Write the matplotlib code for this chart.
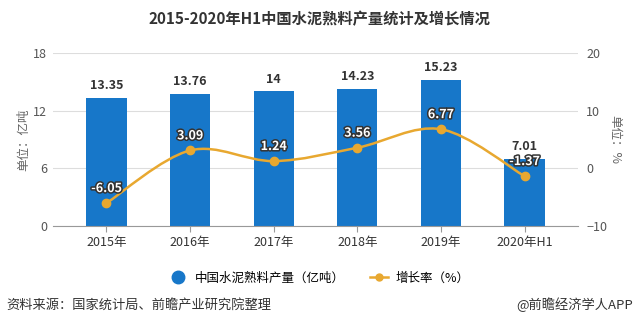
import matplotlib.pyplot as plt
import matplotlib.patheffects as pe
from matplotlib.path import Path
from matplotlib.patches import PathPatch
from matplotlib.lines import Line2D
import numpy as np

plt.rcParams['font.family'] = ['Noto Sans CJK SC', 'DejaVu Sans']

years = ["2015年", "2016年", "2017年", "2018年", "2019年", "2020年H1"]
output = [13.35, 13.76, 14, 14.23, 15.23, 7.01]
growth = [-6.05, 3.09, 1.24, 3.56, 6.77, -1.37]

bar_color = "#1777c9"
line_color = "#e8a830"

fig = plt.figure(figsize=(6.38, 3.25), dpi=100)
ax = fig.add_axes([0.083, 0.305, 0.823, 0.532])
ax2 = ax.twinx()

x = np.arange(len(years))
ax.bar(x, output, width=0.48, color=bar_color, zorder=2)
for xi, v in zip(x, output):
    ax.text(xi, v + 0.6, f"{v:g}", ha="center", va="bottom", fontsize=9,
            fontweight="bold", color="#333333")

ax.set_ylim(0, 18)
ax.set_yticks([0, 6, 12, 18])
ax.set_xlim(-0.64, 5.64)
ax.set_xticks(x)
ax.set_xticklabels(years)
ax.grid(axis="y", color="#dddddd", linewidth=0.8, zorder=0)
ax.set_axisbelow(True)
for s in ["top", "right", "left"]:
    ax.spines[s].set_visible(False)
ax.spines["bottom"].set_color("#999999")
ax.tick_params(axis="y", length=0, labelsize=9, labelcolor="#555555", pad=4)
ax.tick_params(axis="x", length=4, color="#999999", labelsize=9, labelcolor="#333333")
ax.set_ylabel("单位：亿吨", fontsize=9, color="#666666", labelpad=2)

# smooth curve (cardinal spline rendered as bezier path)
ax2.set_ylim(-10, 20)
ax2.set_yticks([-10, 0, 10, 20])
pts = list(zip(x.astype(float), growth))
verts = [pts[0]]
codes = [Path.MOVETO]
t = 0.5 / 3
for i in range(len(pts) - 1):
    p0 = pts[i - 1] if i > 0 else pts[i]
    p1 = pts[i]
    p2 = pts[i + 1]
    p3 = pts[i + 2] if i + 2 < len(pts) else pts[i + 1]
    c1 = (p1[0] + (p2[0] - p0[0]) * t, p1[1] + (p2[1] - p0[1]) * t)
    c2 = (p2[0] - (p3[0] - p1[0]) * t, p2[1] - (p3[1] - p1[1]) * t)
    verts += [c1, c2, p2]
    codes += [Path.CURVE4] * 3
ax2.add_patch(PathPatch(Path(verts, codes), facecolor="none", edgecolor=line_color,
                        linewidth=1.8, zorder=3))
ax2.plot(x, growth, "o", color=line_color, markersize=6, zorder=4)
for xi, v in zip(x, growth):
    ax2.text(xi, v + 1.4, f"{v:g}", ha="center", va="bottom", fontsize=9,
             fontweight="bold", color="white", zorder=5,
             path_effects=[pe.withStroke(linewidth=2.2, foreground="#333333")])

for s in ["top", "right", "left", "bottom"]:
    ax2.spines[s].set_visible(False)
ax2.tick_params(axis="y", length=0, labelsize=9, labelcolor="#555555", pad=6)
ax2.set_ylabel("单位：%", fontsize=9, color="#666666", rotation=270, labelpad=10)

fig.suptitle("2015-2020年H1中国水泥熟料产量统计及增长情况", x=0.5, y=0.965,
             fontsize=11, fontweight="bold", color="#333333")

handles = [
    Line2D([], [], marker="o", linestyle="none", color=bar_color, markersize=9),
    Line2D([], [], marker="o", color=line_color, markersize=5, linewidth=1.8),
]
fig.legend(handles, ["中国水泥熟料产量（亿吨）", "增长率（%）"], loc="center",
           bbox_to_anchor=(0.5, 0.145), ncol=2, frameon=False, fontsize=9,
           handlelength=1.5, columnspacing=2.0, handletextpad=0.6)

fig.text(0.01, 0.062, "资料来源：国家统计局、前瞻产业研究院整理", fontsize=9.5,
         color="#333333", va="center")
fig.text(0.992, 0.062, "@前瞻经济学人APP", fontsize=9.5, color="#333333",
         va="center", ha="right")

fig.savefig("out.png", dpi=100)
